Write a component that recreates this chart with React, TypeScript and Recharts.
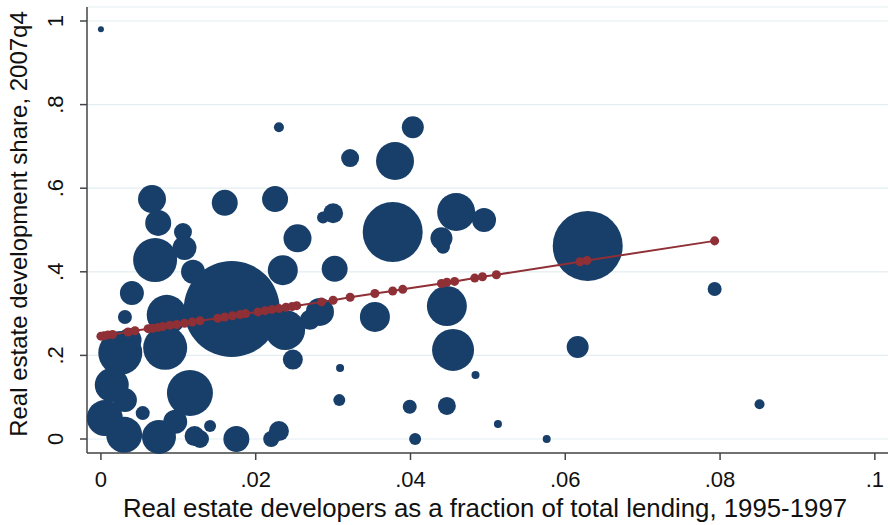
import { ScatterChart, Scatter, XAxis, YAxis, ZAxis, CartesianGrid, Label } from 'recharts';

// bubbles: lending share 1995-97 (x), development share 2007q4 (y), weight (w)
const bubbleX = [
    0.0, 0.023, 0.0403, 0.0322, 0.038, 0.0066, 0.016, 0.0225, 0.0074, 0.0106,
    0.03, 0.0287, 0.0459, 0.0495, 0.0377, 0.0254, 0.044, 0.0442, 0.0629, 0.0302,
    0.0235, 0.0354, 0.0447, 0.0455, 0.0616, 0.0309, 0.0484, 0.0308, 0.0399, 0.0447,
    0.0513, 0.0406, 0.0576, 0.0793, 0.0851, 0.0248, 0.0283, 0.027, 0.0238, 0.0169,
    0.023, 0.022, 0.0175, 0.0128, 0.0141, 0.0031, 0.004, 0.007, 0.0108, 0.0119,
    0.0025, 0.0014, 0.0005, 0.003, 0.0075, 0.0054, 0.0083, 0.0115, 0.0085, 0.0037,
    0.0096, 0.0121, 0.0031,
];
const bubbleY = [
    0.98, 0.746, 0.746, 0.672, 0.665, 0.574, 0.565, 0.574, 0.517, 0.495,
    0.54, 0.53, 0.543, 0.524, 0.495, 0.48, 0.48, 0.46, 0.462, 0.407,
    0.404, 0.292, 0.318, 0.213, 0.22, 0.17, 0.153, 0.093, 0.077, 0.079,
    0.036, 0.0, 0.0, 0.359, 0.083, 0.19, 0.304, 0.285, 0.261, 0.311,
    0.019, 0.0, 0.0, 0.0, 0.031, 0.292, 0.349, 0.428, 0.457, 0.4,
    0.206, 0.129, 0.05, 0.01, 0.005, 0.062, 0.218, 0.11, 0.297, 0.237,
    0.041, 0.007, 0.093,
];
const bubbleW = [
    9, 25, 121, 81, 361, 196, 169, 169, 169, 81,
    100, 36, 361, 144, 900, 196, 121, 49, 1225, 169,
    225, 225, 400, 441, 121, 16, 16, 36, 49, 81,
    16, 36, 16, 49, 25, 100, 196, 100, 400, 2304,
    100, 64, 169, 81, 36, 49, 144, 484, 144, 144,
    484, 289, 324, 324, 289, 49, 484, 529, 400, 144,
    144, 100, 144,
];

// fitted values
const fitX = [
    0, 0.0004, 0.0009, 0.0015, 0.0035, 0.0044, 0.0061, 0.0067, 0.0074, 0.008,
    0.0089, 0.0098, 0.0108, 0.0118, 0.0128, 0.0151, 0.016, 0.017, 0.018, 0.0187,
    0.0203, 0.0212, 0.0221, 0.023, 0.0239, 0.0247, 0.0253, 0.0285, 0.03, 0.0322,
    0.0354, 0.0377, 0.039, 0.044, 0.0447, 0.0457, 0.0483, 0.0493, 0.0511, 0.0619,
    0.0628, 0.0793,
];
const fitY = [
    0.246, 0.247, 0.249, 0.25, 0.256, 0.259, 0.264, 0.265, 0.267, 0.269,
    0.272, 0.274, 0.277, 0.28, 0.283, 0.289, 0.292, 0.295, 0.298, 0.3,
    0.304, 0.307, 0.31, 0.312, 0.315, 0.317, 0.319, 0.328, 0.332, 0.339,
    0.348, 0.354, 0.358, 0.372, 0.375, 0.377, 0.385, 0.388, 0.393, 0.424,
    0.427, 0.474,
];

const xTicks = [0, 0.02, 0.04, 0.06, 0.08, 0.1];
const yTicks = [0, 0.2, 0.4, 0.6, 0.8, 1];

const bubbles = bubbleX.map((x, i) => ({ x, y: bubbleY[i], w: bubbleW[i] }));
const fitted = fitX.map((x, i) => ({ x, y: fitY[i] }));

const FONT = '"Liberation Sans", Arial, sans-serif';
const fmt = (v: number) => (v === 0 ? '0' : String(v).replace(/^0/, ''));

const XTick = ({ x, payload }: any) => (
    <text x={x} y={487} textAnchor="middle" fontSize={22} fontFamily={FONT} fill="#111">
        {fmt(payload.value)}
    </text>
);

const YTick = ({ y, payload }: any) => (
    <text transform={`translate(63, ${y}) rotate(-90)`} textAnchor="middle" fontSize={22} fontFamily={FONT} fill="#111">
        {fmt(payload.value)}
    </text>
);

const App = () => {
    return (
        <div style={{ position: 'absolute', left: 0, top: 0, background: '#fff' }}>
            <ScatterChart width={890} height={525} margin={{ top: 7, right: 2, bottom: 0, left: 0 }}>
                <CartesianGrid vertical={false} stroke="#e3edf2" strokeWidth={1.2} />
                <XAxis
                    type="number"
                    dataKey="x"
                    domain={[-0.0018, 0.1017]}
                    ticks={xTicks}
                    height={72}
                    tick={<XTick />}
                    tickSize={7}
                    stroke="#444"
                    strokeWidth={1.5}
                >
                    <Label
                        content={() => (
                            <text x={485} y={517} textAnchor="middle" fontSize={25.8} fontFamily={FONT} fill="#111">
                                Real estate developers as a fraction of total lending, 1995-1997
                            </text>
                        )}
                    />
                </XAxis>
                <YAxis
                    type="number"
                    dataKey="y"
                    domain={[-0.0335, 1.0335]}
                    ticks={yTicks}
                    width={87}
                    tick={<YTick />}
                    tickSize={7}
                    stroke="#444"
                    strokeWidth={1.5}
                >
                    <Label
                        content={() => (
                            <text transform="translate(27, 224) rotate(-90)" textAnchor="middle" fontSize={24} fontFamily={FONT} fill="#111">
                                Real estate development share, 2007q4
                            </text>
                        )}
                    />
                </YAxis>
                <ZAxis zAxisId="w" type="number" dataKey="w" domain={[0, 2500]} range={[0, 7854]} />
                <ZAxis zAxisId="f" type="number" range={[100, 100]} />
                <Scatter data={bubbles} zAxisId="w" fill="#173f6a" isAnimationActive={false} />
                <Scatter
                    data={fitted}
                    zAxisId="f"
                    fill="#8f2f36"
                    line={{ stroke: '#8f2f36', strokeWidth: 2 }}
                    lineType="joint"
                    isAnimationActive={false}
                />
            </ScatterChart>
        </div>
    );
};

export default App;
